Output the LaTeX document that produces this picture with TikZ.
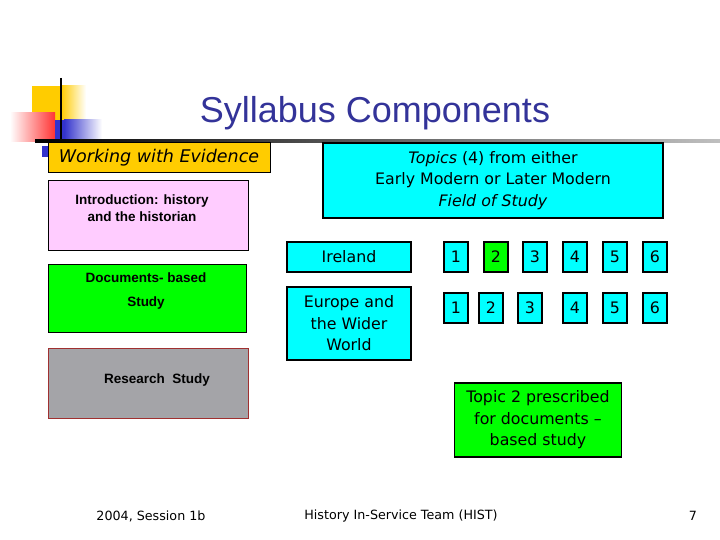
\documentclass[tikz,border=0pt]{standalone}
\usepackage{fontspec}
\setmainfont{DejaVu Sans}
\newfontfamily\arialfont{Liberation Sans}
\usepackage{xcolor}
\usetikzlibrary{positioning,calc}

\definecolor{titleblue}{HTML}{333399}
\definecolor{wweyellow}{HTML}{FFCC00}
\definecolor{intropink}{HTML}{FFCCFF}
\definecolor{docgreen}{HTML}{00FF00}
\definecolor{resgrey}{HTML}{A4A4A8}
\definecolor{resborder}{HTML}{A03030}
\definecolor{topcyan}{HTML}{00FFFF}
\definecolor{decored}{HTML}{FF3333}
\definecolor{decoblue}{HTML}{3333CC}

\begin{document}
\begin{tikzpicture}[x=1pt, y=-1pt,
  lbox/.style={draw, inner sep=0pt},
  ltext/.style={font=\arialfont\bfseries\fontsize{13.5}{17}\selectfont, align=center, inner sep=0pt},
  cbox/.style={draw, line width=1.6pt, fill=topcyan, inner sep=0pt, align=center, font=\fontsize{15.8}{21.5}\selectfont},
  numbox/.style={cbox, minimum width=24, minimum height=30},
  foot/.style={font=\fontsize{12.7}{15}\selectfont}]
\useasboundingbox (0,0) rectangle (720,540);

% corner decoration
\fill[wweyellow] (32,86) rectangle (61,120);
\shade[left color=wweyellow, right color=white] (61,86) rectangle (86,120);
\shade[left color=white, right color=decored] (10,113) rectangle (55,142);
\fill[decoblue] (55,120) rectangle (64,140);
\shade[left color=decoblue, right color=white] (64,120) rectangle (102,140);
\fill[decoblue] (42,146) rectangle (48,157);
\draw[line width=1.5pt] (61,78) -- (61,142);
\shade[left color=black, right color=black!25] (35,140) rectangle (720,143);

\node[font=\arialfont\fontsize{36}{40}\selectfont, text=titleblue] (title) at (375,113) {Syllabus Components};

% left column
\node[lbox, fill=wweyellow, line width=1pt, minimum width=222, minimum height=30,
  font=\itshape\fontsize{17.5}{20}\selectfont] (wwe) at (159,158) {Working with Evidence};
\node[lbox, fill=intropink, minimum width=200, minimum height=70] (intro) at (148,215) {};
\node[ltext] (introtxt) at (142,208) {Introduction: history\\and the historian};
\node[lbox, fill=docgreen, minimum width=198, minimum height=68] (docs) at (147,298) {};
\node[ltext, font=\arialfont\bfseries\fontsize{13.5}{24}\selectfont] (docstxt) at (146,291) {Documents- based\\Study};
\node[lbox, draw=resborder, fill=resgrey, minimum width=200, minimum height=70] (res) at (148,383) {};
\node[ltext] (restxt) at (157,380) {Research~~Study};

% right column
\node[cbox, minimum width=340, minimum height=75] (topics) at (493,180.5)
  {\textit{Topics} (4) from either\\Early Modern or Later Modern\\\textit{Field of Study}};
\node[cbox, minimum width=124, minimum height=30] (ireland) at (349,257) {Ireland};
\node[cbox, minimum width=124, minimum height=73] (europe) at (349,323.5) {Europe and\\the Wider\\World};
\foreach \n/\x/\c in {1/456/topcyan, 2/496/docgreen, 3/535/topcyan, 4/575/topcyan, 5/615/topcyan, 6/655/topcyan}
  \node[numbox, fill=\c] (ire\n) at (\x,257) {\n};
\foreach \n/\x in {1/456, 2/491, 3/530, 4/575, 5/615, 6/655}
  \node[numbox] (eur\n) at (\x,308) {\n};
\node[cbox, fill=docgreen, minimum width=167, minimum height=74] (prescribed) at (538,420)
  {Topic 2 prescribed\\for documents --\\based study};

% footer
\node[foot] (date) at (151,516) {2004, Session 1b};
\node[foot] (team) at (401,516) {History In-Service Team (HIST)};
\node[foot] (page) at (693,516) {7};
\end{tikzpicture}
\end{document}
